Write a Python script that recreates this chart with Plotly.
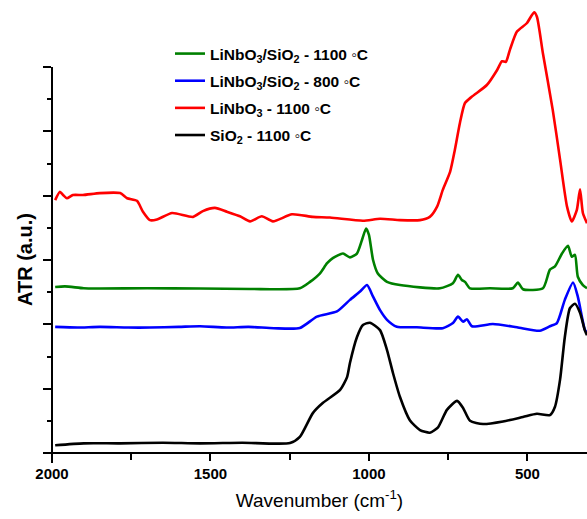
import plotly.graph_objects as go

# ---- data (wavenumber in cm^-1, ATR in arbitrary offset units) ----
wn_black = [1990, 1900, 1785, 1650, 1533, 1400, 1249, 1218, 1177, 1145, 1091, 1069, 1060, 1038, 1019,
            997, 965, 943, 924, 902, 871, 839, 808, 782, 754, 722, 703, 681, 640, 577, 514, 470,
            429, 413, 397, 382, 366, 350, 334, 319, 312]
atr_black = [0.12, 0.15, 0.15, 0.16, 0.15, 0.16, 0.155, 0.25, 0.62, 0.78, 0.98, 1.18, 1.40, 1.80, 1.99,
             2.025, 1.91, 1.60, 1.24, 0.87, 0.51, 0.357, 0.316, 0.40, 0.67, 0.81, 0.70, 0.50, 0.45,
             0.49, 0.56, 0.61, 0.59, 0.72, 1.14, 1.80, 2.25, 2.32, 2.18, 1.91, 1.83]

wn_blue = [1990, 1920, 1849, 1760, 1691, 1600, 1533, 1450, 1380, 1300, 1218, 1164, 1101, 1060, 1028,
           1006, 987, 965, 943, 912, 849, 767, 735, 719, 703, 691, 675, 609, 533, 461, 429, 407,
           382, 356, 341, 319, 312]
atr_blue = [1.96, 1.95, 1.96, 1.95, 1.95, 1.96, 1.97, 1.95, 1.96, 1.94, 1.943, 2.12, 2.20, 2.38, 2.51,
            2.61, 2.43, 2.22, 2.07, 1.963, 1.954, 1.94, 2.02, 2.12, 2.04, 2.08, 1.97, 2.005, 1.954,
            1.90, 1.97, 2.02, 2.38, 2.65, 2.43, 1.92, 1.87]

wn_green = [1990, 1959, 1900, 1849, 1700, 1533, 1375, 1218, 1186, 1155, 1132, 1114, 1082, 1060, 1038,
            1022, 1009, 1000, 987, 972, 943, 902, 776, 735, 719, 707, 697, 681, 618, 546, 530,
            514, 451, 429, 413, 391, 372, 360, 350, 341, 325, 312]
atr_green = [2.58, 2.59, 2.56, 2.557, 2.56, 2.557, 2.55, 2.56, 2.66, 2.79, 2.95, 3.03, 3.10, 3.04, 3.10,
             3.31, 3.49, 3.39, 3.00, 2.79, 2.66, 2.61, 2.56, 2.64, 2.77, 2.69, 2.66, 2.56, 2.56,
             2.56, 2.65, 2.545, 2.56, 2.85, 2.90, 3.10, 3.22, 3.05, 3.08, 2.74, 2.61, 2.56]

wn_red = [1990, 1975, 1965, 1953, 1934, 1902, 1849, 1785, 1763, 1732, 1713, 1691, 1669, 1621, 1555,
          1524, 1486, 1448, 1407, 1375, 1338, 1303, 1243, 1177, 1123, 1019, 965, 902, 839, 808,
          785, 767, 744, 729, 713, 697, 675, 628, 596, 580, 568, 555, 533, 502, 479, 470, 451,
          420, 397, 375, 360, 344, 334, 325, 312]
atr_red = [3.93, 4.06, 4.01, 3.96, 4.01, 4.01, 4.04, 4.04, 3.96, 3.92, 3.75, 3.62, 3.63, 3.73, 3.67,
           3.76, 3.81, 3.75, 3.68, 3.60, 3.68, 3.60, 3.71, 3.67, 3.66, 3.61, 3.64, 3.62, 3.62, 3.67,
           3.83, 4.09, 4.37, 4.71, 5.13, 5.44, 5.54, 5.72, 5.95, 6.09, 6.08, 6.27, 6.55, 6.68, 6.85,
           6.78, 6.21, 5.33, 4.56, 3.83, 3.60, 3.78, 4.10, 3.73, 3.57]

series = [
    ("LiNbO<sub>3</sub>/SiO<sub>2</sub> - 1100 \u25e6C", wn_green, atr_green, "#008000"),
    ("LiNbO<sub>3</sub>/SiO<sub>2</sub> - 800 \u25e6C", wn_blue, atr_blue, "#0000FF"),
    ("LiNbO<sub>3</sub> - 1100 \u25e6C", wn_red, atr_red, "#FF0000"),
    ("SiO<sub>2</sub> - 1100 \u25e6C", wn_black, atr_black, "#000000"),
]

x_ticks = [2000, 1500, 1000, 500]
x_minor = [1750, 1250, 750]
x_range = [2000, 312]
y_range = [0, 6.917]
y_axis_top = 6

fig = go.Figure()
for i, (name, x, y, c) in enumerate(series):
    fig.add_trace(go.Scatter(x=x, y=y, mode="lines", name=name, legendgroup=f"g{i}",
                             line=dict(color=c, width=2.6, shape="spline", smoothing=0.6)))

W, H = 587, 519
ml, mr, mt, mb = 52, 0, 8, 66
plot_h = H - mt - mb
plot_w = W - ml - mr

fig.update_layout(
    width=W, height=H,
    margin=dict(l=ml, r=mr, t=mt, b=mb),
    paper_bgcolor="white", plot_bgcolor="white",
    font=dict(family="Arial", color="black"),
    showlegend=True,
    legend=dict(x=(170 - ml) / plot_w, y=1 - (37 - mt) / plot_h, xanchor="left", yanchor="top",
                bgcolor="rgba(0,0,0,0)", traceorder="grouped", tracegroupgap=4,
                font=dict(family="Arial", size=15.5, color="black", weight="bold")),
    xaxis=dict(range=x_range, autorange=False, tickvals=x_ticks, ticks="outside", ticklen=7,
               tickwidth=1.5, tickcolor="black", showgrid=False, zeroline=False, showline=False,
               tickfont=dict(family="Arial", size=15, weight="bold"),
               minor=dict(tickvals=x_minor, ticks="outside", ticklen=6, tickwidth=1.5,
                          tickcolor="black", showgrid=False),
               title=dict(text="Wavenumber (cm<sup>-1</sup>)", standoff=12,
                          font=dict(family="Arial", size=19))),
    yaxis=dict(range=y_range, autorange=False, tickvals=list(range(0, y_axis_top + 1)),
               ticks="outside", ticklen=8, tickwidth=1.5, tickcolor="black",
               showticklabels=False, showgrid=False, zeroline=False, showline=False,
               minor=dict(tickvals=[i + 0.5 for i in range(y_axis_top)], ticks="outside",
                          ticklen=4, tickwidth=1.5, tickcolor="black", showgrid=False)),
)

# y-axis title centred on the drawn axis line (as in the reference)
fig.add_annotation(text="ATR (a.u.)", textangle=-90, xref="paper", yref="paper",
                   x=0, y=(y_axis_top / 2) / y_range[1], xanchor="center", yanchor="middle",
                   xshift=-27, showarrow=False,
                   font=dict(family="Arial", size=20, weight="bold", color="black"))

# axis lines drawn like the reference (cross at origin, y axis stops at top tick)
fig.add_shape(type="line", xref="paper", yref="paper", x0=-7 / plot_w, x1=1, y0=0, y1=0,
              line=dict(color="black", width=2))
fig.add_shape(type="line", xref="paper", yref="paper", x0=0, x1=0, y0=-10 / plot_h,
              y1=y_axis_top / y_range[1], line=dict(color="black", width=2))

fig.write_html("out.html")
